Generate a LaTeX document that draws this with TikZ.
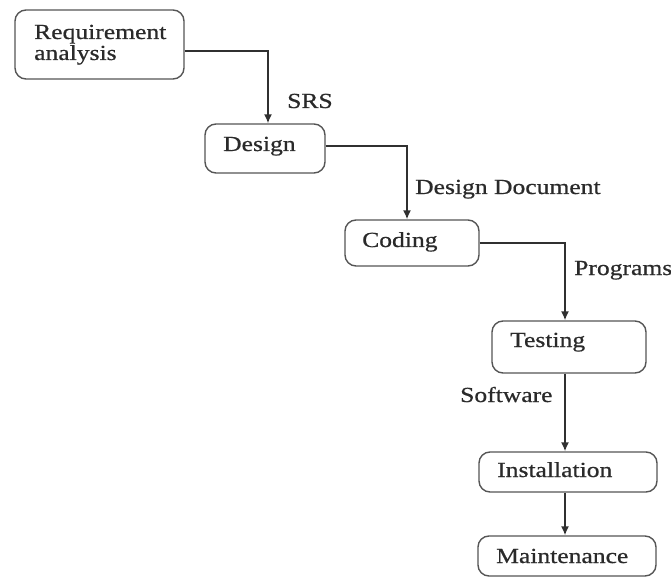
\documentclass[tikz,border=0pt]{standalone}
\usepackage{fontspec}
\setmainfont{Liberation Serif}[FakeStretch=1.19,FakeBold=0.7]
\usetikzlibrary{arrows.meta}
\definecolor{boxgray}{HTML}{555555}
\definecolor{linegray}{HTML}{303030}
\definecolor{txtgray}{HTML}{2A2A2A}
\begin{document}
\begin{tikzpicture}[x=1pt,y=-1pt,
  box/.style={draw=boxgray, line width=1.4pt, rounded corners=11pt, inner sep=0pt},
  lbl/.style={anchor=base west, inner sep=0pt, text=txtgray, font=\fontsize{21.5}{21}\selectfont},
  conn/.style={draw=linegray, line width=1.5pt, -{Latex[length=9pt,width=8pt]}}]
\useasboundingbox (0,0) rectangle (671,577);
% boxes
\node[box, minimum width=169pt, minimum height=69pt] (ra) at (99.5,44.5) {};
\node[box, minimum width=120pt, minimum height=49pt] (design) at (265,148.5) {};
\node[box, minimum width=134pt, minimum height=46pt] (coding) at (412,243) {};
\node[box, minimum width=154pt, minimum height=52pt] (testing) at (569,347) {};
\node[box, minimum width=178pt, minimum height=40pt] (inst) at (568,472) {};
\node[box, minimum width=178pt, minimum height=40pt] (maint) at (567,556) {};
% box texts
\node[lbl] (ra1) at (34,39) {Requirement};
\node[lbl] (ra2) at (34,60) {analysis};
\node[lbl] (designt) at (223,151) {Design};
\node[lbl] (codingt) at (362,247) {Coding};
\node[lbl] (testingt) at (510,347) {Testing};
\node[lbl] (instt) at (497,477) {Installation};
\node[lbl] (maintt) at (496,563) {Maintenance};
% connector labels
\node[lbl] (srs) at (287,108) {SRS};
\node[lbl] (dd) at (415,194) {Design Document};
\node[lbl] (prog) at (574,275) {Programs};
\node[lbl] (soft) at (460,402) {Software};
% connectors
\draw[conn] ([yshift=-6.5pt]ra.east) -| ([xshift=3pt]design.north);
\draw[conn] ([yshift=2.5pt]design.east) -| ([xshift=-5pt]coding.north);
\draw[conn] (coding.east) -| ([xshift=-4pt]testing.north);
\draw[conn] ([xshift=-4pt]testing.south) -- ([xshift=-3pt]inst.north);
\draw[conn] ([xshift=-3pt]inst.south) -- ([xshift=-2pt]maint.north);
\end{tikzpicture}
\end{document}
